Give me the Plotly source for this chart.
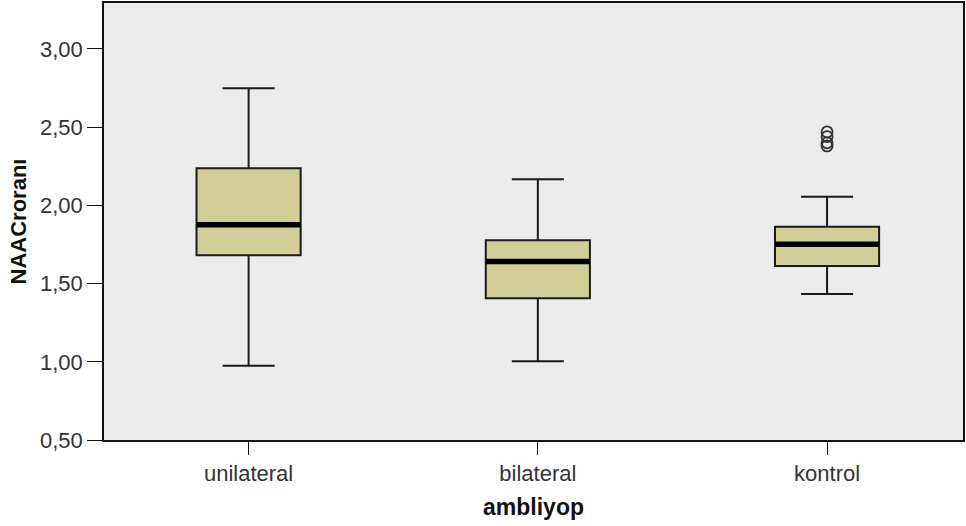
import plotly.graph_objects as go

categories = ["unilateral", "bilateral", "kontrol"]
lower_whisker = [0.975, 1.003, 1.433]
q1 = [1.681, 1.406, 1.613]
median = [1.877, 1.642, 1.751]
q3 = [2.237, 1.777, 1.864]
upper_whisker = [2.749, 2.167, 2.056]
kontrol_outliers = [2.47, 2.44, 2.40, 2.38]
y_tickvals = [0.5, 1.0, 1.5, 2.0, 2.5, 3.0]
y_ticktext = ["0,50", "1,00", "1,50", "2,00", "2,50", "3,00"]

BOX_W = 0.36
pos = list(range(len(categories)))

fig = go.Figure()
fig.add_trace(go.Box(
    x=pos, q1=q1, median=median, q3=q3,
    lowerfence=lower_whisker, upperfence=upper_whisker,
    width=BOX_W, whiskerwidth=0.5,
    fillcolor="#D3CE97", line=dict(color="#1a1a1a", width=2),
    boxpoints=False, showlegend=False, hoverinfo="skip",
))
for i, m in zip(pos, median):
    fig.add_trace(go.Scatter(
        x=[i - BOX_W / 2, i + BOX_W / 2], y=[m, m], mode="lines",
        line=dict(color="black", width=5.5), showlegend=False, hoverinfo="skip",
    ))
fig.add_trace(go.Scatter(
    x=[categories.index("kontrol")] * len(kontrol_outliers), y=kontrol_outliers,
    mode="markers", marker=dict(symbol="circle-open", size=11, color="#333333",
                                line=dict(width=1.8)),
    showlegend=False, hoverinfo="skip",
))

fig.update_layout(
    width=966, height=526,
    margin=dict(l=104, r=1, t=3, b=86),
    paper_bgcolor="white", plot_bgcolor="#EBEBEB",
    font=dict(family="Liberation Sans, Arial, sans-serif", size=22, color="#333333"),
)
fig.update_xaxes(
    range=[-0.5, 2.47], tickvals=pos, ticktext=categories,
    showgrid=False, zeroline=False,
    showline=True, linecolor="#111111", linewidth=1.5, mirror=True,
    ticks="outside", ticklen=13, tickcolor="#111111",
    title=dict(text="<b>ambliyop</b>", font=dict(size=23, color="#111111"), standoff=14),
)
fig.update_yaxes(
    range=[0.5, 3.294], tickvals=y_tickvals, ticktext=y_ticktext,
    showgrid=False, zeroline=False,
    showline=True, linecolor="#111111", linewidth=1.5, mirror=True,
    ticks="outside", ticklen=15, tickcolor="#111111",
    title=dict(text="<b>NAACroranı</b>", font=dict(size=22, color="#111111"), standoff=7),
)

fig.write_html("out.html", config={"displayModeBar": False},
               post_script="document.body.style.margin='0';")
